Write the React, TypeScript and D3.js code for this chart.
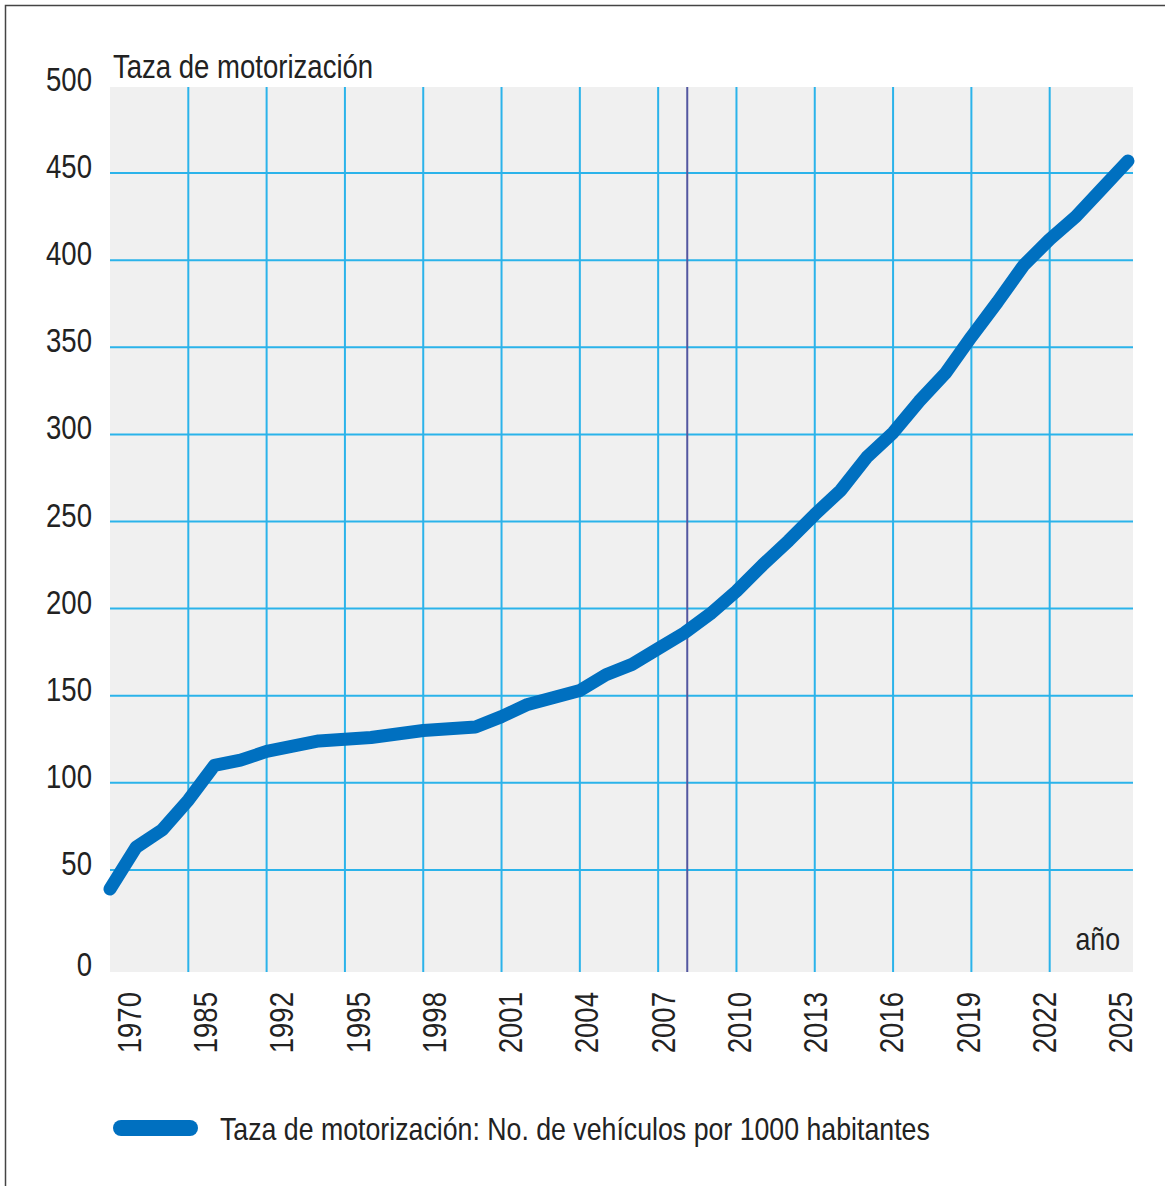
import React from 'react';
import * as d3 from 'd3';

// x axis labels (each label spans three data steps)
const tickLabels = ['1970', '1985', '1992', '1995', '1998', '2001', '2004', '2007', '2010', '2013', '2016', '2019', '2022', '2025'];
const stepsPerTick = 3;

// vehicles per 1000 inhabitants, one value per step
const rateValues = [
    39, 63, 73, 90, 110, 113, 118, 121, 124, 125,
    126, 128, 130, 131, 132, 138, 145, 149, 153, 162,
    168, 177, 186, 197, 210, 225, 239, 254, 268, 287,
    301, 319, 335, 356, 376, 397, 412, 425, 441, 457,
];

const yTicks = [0, 50, 100, 150, 200, 250, 300, 350, 400, 450, 500];
const markerYear = 2008;

const FONT = '"Liberation Sans", Arial, sans-serif';
const NARROW = 0.835; // squeeze to look like a condensed face
const GRID = '#2bb3ea';
const LINE = '#0070c0';
const INK = '#222';

interface LabelProps {
    x: number;
    y: number;
    size: number;
    anchor?: 'start' | 'end' | 'middle';
    rotate?: number;
    children: React.ReactNode;
}

const Label: React.FC<LabelProps> = ({ x, y, size, anchor = 'start', rotate = 0, children }) => (
    <text
        transform={`translate(${x},${y}) rotate(${rotate}) scale(${NARROW},1)`}
        textAnchor={anchor}
        fontSize={size}
        fill={INK}
    >
        {children}
    </text>
);

const App: React.FC = () => {
    const width = 1165;
    const height = 1186;
    const plot = { left: 110, right: 1133, top: 87, bottom: 972 };

    const x = d3
        .scaleLinear()
        .domain([0, rateValues.length - 1])
        .range([110, 1128]);

    const y = d3.scaleLinear().domain([0, 500]).range([957, 86]);

    // rotated labels sit a little apart from the grid
    const labelX = d3.scalePoint<string>().domain(tickLabels).range([129, 1120]);

    const line = d3
        .line<number>()
        .x((_, i) => x(i))
        .y((d) => y(d));

    const i2007 = tickLabels.indexOf('2007') * stepsPerTick;
    const markerX = x(i2007 + (markerYear - 2007)) + 3;

    return (
        <svg width={width} height={height} style={{ position: 'absolute', left: 0, top: 0 }} fontFamily={FONT}>
            <rect x={0} y={0} width={width} height={height} fill="#fff" />
            <rect x={5.5} y={5.5} width={1175} height={1200} fill="none" stroke="#444" strokeWidth={1.5} />

            <rect x={plot.left} y={plot.top} width={plot.right - plot.left} height={plot.bottom - plot.top} fill="#f0f0f0" />

            {yTicks
                .filter((v) => v > 0 && v < 500)
                .map((v) => (
                    <line key={v} x1={plot.left} x2={plot.right} y1={y(v)} y2={y(v)} stroke={GRID} strokeWidth={2} />
                ))}
            {tickLabels.slice(1, -1).map((t, k) => (
                <line key={t} x1={x((k + 1) * stepsPerTick)} x2={x((k + 1) * stepsPerTick)} y1={plot.top} y2={plot.bottom} stroke={GRID} strokeWidth={2} />
            ))}

            <line x1={markerX} x2={markerX} y1={plot.top} y2={plot.bottom} stroke="#5357a0" strokeWidth={2} />

            <path d={line(rateValues) ?? ''} fill="none" stroke={LINE} strokeWidth={13} strokeLinecap="round" strokeLinejoin="round" />

            {yTicks.map((v) => (
                <Label key={v} x={92} y={v === 0 ? plot.bottom + 4 : y(v) + 5} size={33} anchor="end">
                    {v}
                </Label>
            ))}

            {tickLabels.map((t) => (
                <Label key={t} x={labelX(t)! + 12} y={992} size={33} anchor="end" rotate={-90}>
                    {t}
                </Label>
            ))}

            <Label x={113} y={78} size={33}>
                Taza de motorización
            </Label>
            <Label x={1120} y={950} size={32} anchor="end">
                año
            </Label>

            <rect x={113} y={1120} width={85} height={16} rx={8} fill={LINE} />
            <Label x={220} y={1140} size={32}>
                Taza de motorización: No. de vehículos por 1000 habitantes
            </Label>
        </svg>
    );
};

export default App;
